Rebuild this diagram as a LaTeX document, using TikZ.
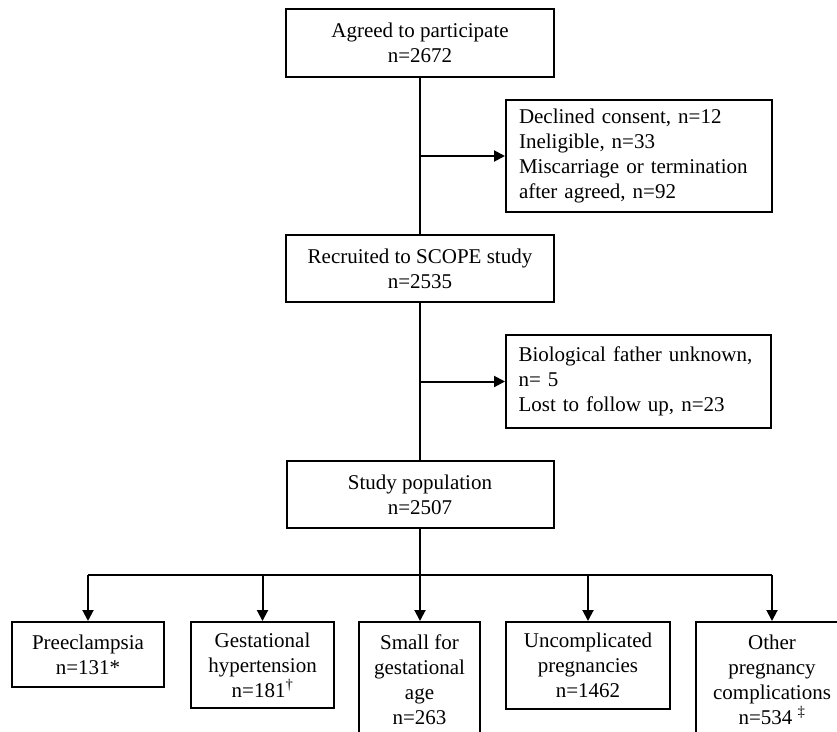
\documentclass[tikz,border=0pt]{standalone}
\usepackage{fontspec}
\setmainfont{Liberation Serif}
\usetikzlibrary{arrows.meta}
\begin{document}
\begin{tikzpicture}[x=1pt,y=-1pt,
  box/.style={draw, line width=2pt, inner sep=0pt, align=center,
    font=\fontsize{21}{25}\selectfont},
  sidebox/.style={box, align=left, text width=240pt},
  conn/.style={line width=2pt},
  arr/.style={conn, -{Triangle[length=11pt,width=11pt]}}]
\useasboundingbox (0,0) rectangle (837,731);
\clip (0,0) rectangle (837,731);
\node[box, minimum width=268pt, minimum height=68pt] (top) at (420,43) {Agreed to participate\\n=2672};
\node[sidebox, minimum width=266pt, minimum height=112pt] (side1) at (639,156) {Declined consent, n=12\\Ineligible, n=33\\Miscarriage or termination\\after agreed, n=92};
\node[box, minimum width=268pt, minimum height=67pt] (rec) at (420,268.5) {Recruited to SCOPE study\\n=2535};
\node[sidebox, minimum width=265pt, minimum height=93pt] (side2) at (638.5,381.5) {Biological father unknown,\\n= 5\\Lost to follow up, n=23};
\node[box, minimum width=267pt, minimum height=67pt] (study) at (420,494.5) {Study population\\n=2507};
\node[box, minimum width=152pt, minimum height=65pt] (b1) at (88,654.5) {Preeclampsia\\n=131*};
\node[box, minimum width=143pt, minimum height=86pt] (b2) at (262.5,665) {Gestational\\hypertension\\n=181\textsuperscript{†}};
\node[box, minimum width=121pt, minimum height=115pt] (b3) at (419.5,679.5) {Small for\\gestational\\age\\n=263};
\node[box, minimum width=164pt, minimum height=87pt] (b4) at (588,665.5) {Uncomplicated\\pregnancies\\n=1462};
\node[box, minimum width=152pt, minimum height=115pt] (b5) at (772,679.5) {Other\\pregnancy\\complications\\n=534 \textsuperscript{‡}};
\coordinate (j1) at (420,156);
\coordinate (j2) at (420,381.5);
\coordinate (br) at (420,575);
\draw[conn] (top.south) -- (rec.north);
\draw[arr] (j1) -- (side1.west);
\draw[conn] (rec.south) -- (study.north);
\draw[arr] (j2) -- (side2.west);
\draw[arr] (study.south) -- (study.south |- b3.north);
\draw[conn] (b1.north |- br) -- (b5.north |- br);
\draw[arr] (b1.north |- br) -- (b1.north);
\draw[arr] (b2.north |- br) -- (b2.north);
\draw[arr] (b4.north |- br) -- (b4.north);
\draw[arr] (b5.north |- br) -- (b5.north);
\end{tikzpicture}
\end{document}
